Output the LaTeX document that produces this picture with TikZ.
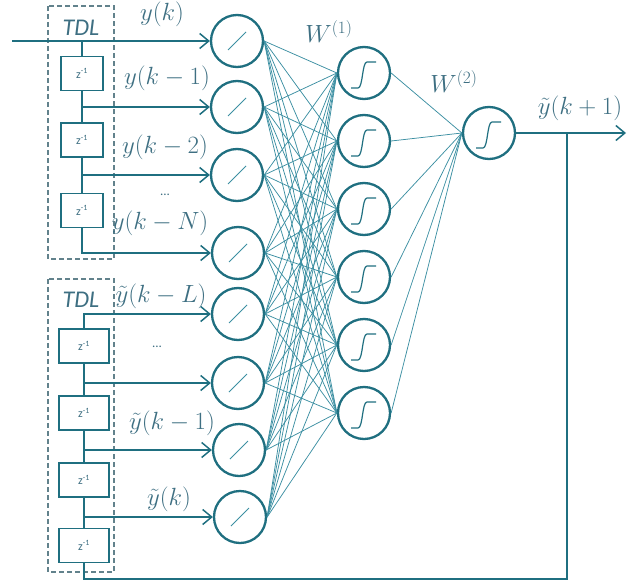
\documentclass[tikz,border=0pt]{standalone}
\usepackage{fontspec}
\usepackage{amsmath}
\newfontfamily\tdlfont{Carlito}
\usetikzlibrary{arrows.meta}

\definecolor{netdark}{HTML}{1F6F80}
\definecolor{netline}{HTML}{3C8FA2}
\definecolor{nettext}{HTML}{3E6F82}
\definecolor{netdash}{HTML}{62828C}

\begin{document}
\begin{tikzpicture}[x=1pt,y=-1pt,
  neuron/.style={circle,draw=netdark,line width=2.3pt,minimum size=52pt,inner sep=0pt,fill=white},
  lin/.style={neuron,path picture={\draw[netline,line width=1pt,shift={(path picture bounding box.center)}] (-9pt,-9pt) -- (9pt,9pt);}},
  sig/.style={neuron,path picture={\draw[netdark,line width=1.2pt,shift={(path picture bounding box.center)}]
      (-13pt,-15pt) -- (-6pt,-15pt) .. controls (-1pt,-15pt) and (-2pt,11pt) .. (3pt,11pt) -- (12pt,11pt);}},
  delay/.style={draw=netdark,line width=1.3pt,fill=white,minimum height=34pt,inner sep=0pt,
      text=nettext,font=\tdlfont\fontsize{12}{13}\selectfont},
  tdlbox/.style={draw=netdash,line width=1.2pt,dash pattern=on 5pt off 3pt},
  feed/.style={netdark,line width=1.6pt},
  arr/.style={feed,-{Straight Barb[length=9pt,width=15pt,line width=1.5pt]}},
  conn/.style={netline,line width=0.75pt},
  lab/.style={text=nettext,font=\fontsize{23}{25}\selectfont,inner sep=0pt},
  tdl/.style={text=nettext,font=\tdlfont\itshape\fontsize{24}{26}\selectfont,inner sep=0pt},
  dots/.style={text=nettext,font=\tdlfont\fontsize{13}{14}\selectfont,inner sep=0pt}]

\useasboundingbox (0,0) rectangle (628,583);

% dashed tapped-delay-line frames
\draw[tdlbox] (48,6) rectangle (114,259);
\draw[tdlbox] (48,279) rectangle (114,572);
\node[tdl] (tdlA) at (81,28) {TDL};
\node[tdl] (tdlB) at (81,300) {TDL};

% input layer (linear units)
\node[lin] (in1) at (237,41) {};
\node[lin] (in2) at (237,107) {};
\node[lin] (in3) at (237,175) {};
\node[lin] (in4) at (238,253) {};
\node[lin] (in5) at (238,314) {};
\node[lin] (in6) at (238,383) {};
\node[lin] (in7) at (239,450) {};
\node[lin] (in8) at (240,517) {};

% hidden layer (sigmoid units)
\node[sig] (h1) at (364,73) {};
\node[sig] (h2) at (364,141) {};
\node[sig] (h3) at (364,209) {};
\node[sig] (h4) at (364,277) {};
\node[sig] (h5) at (364,345) {};
\node[sig] (h6) at (364,413) {};

% output unit
\node[sig] (out) at (489,133) {};

% weights, layer 1
\foreach \i in {1,...,8}
  \foreach \j in {1,...,6}
    \draw[conn] (in\i.east) -- (h\j.west);
% weights, layer 2
\foreach \j in {1,...,6}
  \draw[conn] (h\j.east) -- (out.west);

% external input and first delay line
\coordinate (xin) at (12,41);
\coordinate (ua) at (82,41);
\draw[arr] (xin) -- (in1.west);
\draw[arr] (ua) |- (in4.west);
\draw[arr] (ua |- in2) -- (in2.west);
\draw[arr] (ua |- in3) -- (in3.west);
\node[delay,minimum width=42pt] (da1) at (82,73.5) {z\textsuperscript{-1}};
\node[delay,minimum width=42pt] (da2) at (82,140) {z\textsuperscript{-1}};
\node[delay,minimum width=42pt] (da3) at (82,210.5) {z\textsuperscript{-1}};

% output and feedback into second delay line
\coordinate (yout) at (626,133);
\coordinate (fb1) at (567,133);
\coordinate (fb2) at (567,579);
\coordinate (fb3) at (84,579);
\draw[arr] (out.east) -- (yout);
\draw[arr] (fb1) -- (fb2) -- (fb3) |- (in5.west);
\draw[arr] (fb3 |- in6) -- (in6.west);
\draw[arr] (fb3 |- in7) -- (in7.west);
\draw[arr] (fb3 |- in8) -- (in8.west);
\node[delay,minimum width=50pt] (db1) at (84,346) {z\textsuperscript{-1}};
\node[delay,minimum width=50pt] (db2) at (84,413) {z\textsuperscript{-1}};
\node[delay,minimum width=50pt] (db3) at (84,480) {z\textsuperscript{-1}};
\node[delay,minimum width=50pt] (db4) at (84,545.5) {z\textsuperscript{-1}};

% signal labels
\node[lab] (l1) at (162,14) {$y(k)$};
\node[lab] (l2) at (167,78) {$y(k-1)$};
\node[lab] (l3) at (165,147) {$y(k-2)$};
\node[dots] (l4) at (165,195) {...};
\node[lab] (l5) at (160,223) {$y(k-N)$};
\node[lab] (l6) at (161,296) {$\tilde{y}(k-L)$};
\node[dots] (l7) at (157,347) {...};
\node[lab] (l8) at (172,423) {$\tilde{y}(k-1)$};
\node[lab] (l9) at (169,499) {$\tilde{y}(k)$};
\node[lab] (lw1) at (329,32) {$W^{(1)}$};
\node[lab] (lw2) at (454,82) {$W^{(2)}$};
\node[lab] (lo) at (580,108) {$\tilde{y}(k+1)$};
\end{tikzpicture}
\end{document}
